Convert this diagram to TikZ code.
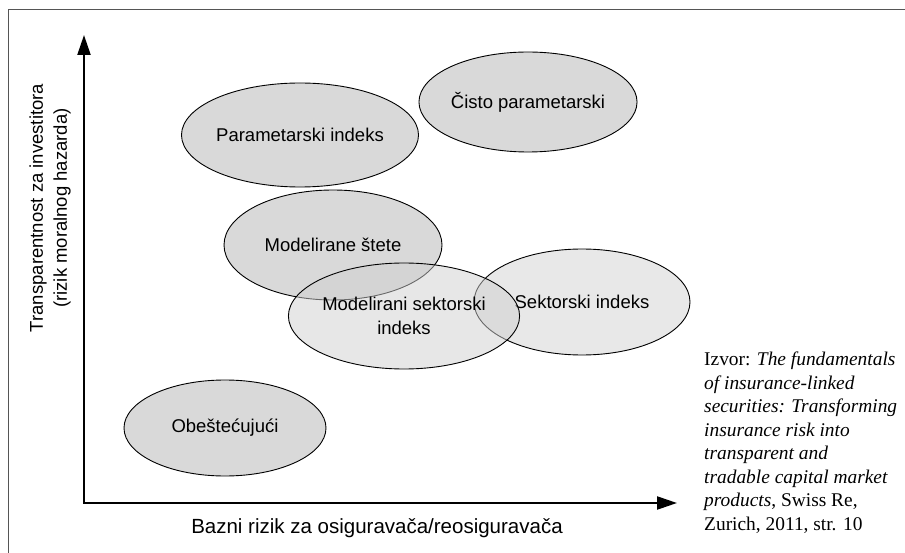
\documentclass[tikz,border=0pt]{standalone}
\usepackage{fontspec}
\setmainfont{Liberation Sans}
\newfontfamily\notefont{Liberation Serif}
\usetikzlibrary{shapes.geometric,arrows.meta}
\definecolor{darkfill}{HTML}{D9D9D9}
\definecolor{lightfill}{HTML}{E8E8E8}
\definecolor{glassfill}{HTML}{D0D0D0}
\definecolor{framegray}{HTML}{555555}
\begin{document}
\begin{tikzpicture}[x=1pt,y=-1pt,
  labelfont/.style={font=\fontsize{18.5}{24}\selectfont},
  blob/.style={ellipse, draw=black, line width=0.9pt, inner sep=0pt,
    labelfont, align=center, text=black},
  darkblob/.style={blob, fill=darkfill},
  lightblob/.style={blob, fill=lightfill},
  glassblob/.style={blob, fill=glassfill, fill opacity=0.5, text opacity=1},
  axisline/.style={line width=2.2pt, black,
    arrows={Triangle[length=20pt,width=13pt]-Triangle[length=20pt,width=13pt]}},
  framelines/.style={line width=1.4pt, framegray}]
\useasboundingbox (0,0) rectangle (905,553);

% outer frame (left and top edges)
\draw[framelines] (8.5,553) -- (8.5,9.5) -- (905,9.5);

% axes
\coordinate (origin) at (84,503);
\coordinate (ytip) at (84,35);
\coordinate (xtip) at (677,503);
\draw[axisline] (ytip) -- (origin) -- (xtip);

% axis titles
\node[labelfont, rotate=90, align=center] (ylab) at (50,208)
  {Transparentnost za investitora\\(rizik moralnog hazarda)};
\node[font=\fontsize{20.5}{24}\selectfont, anchor=base] (xlab) at (377,533)
  {Bazni rizik za osiguravača/reosiguravača};

% product types
\node[darkblob, minimum width=216pt, minimum height=104pt] (param) at (300,135) {Parametarski indeks};
\node[darkblob, minimum width=204pt, minimum height=100pt] (cisto) at (528,102) {Čisto parametarski};
\node[darkblob, minimum width=218pt, minimum height=110pt] (modstete) at (333,245) {Modelirane štete};
\node[lightblob, minimum width=216pt, minimum height=106pt] (sektor) at (582,302) {Sektorski indeks};
\node[glassblob, minimum width=216pt, minimum height=106pt] (modsektor) at (404,316) {Modelirani sektorski\\indeks};
\node[darkblob, minimum width=202pt, minimum height=96pt] (obest) at (225,428) {Obeštećujući};

% source note
\node[anchor=north west, inner sep=0pt, align=left,
  font=\notefont\fontsize{19.4}{23.5}\selectfont] (src) at (704,352)
  {Izvor: \textit{The fundamentals}\\
   \textit{of insurance-linked}\\
   \textit{securities: Transforming}\\
   \textit{insurance risk into}\\
   \textit{transparent and}\\
   \textit{tradable capital market}\\
   \textit{products}, Swiss Re,\\
   Zurich, 2011, str. 10};
\end{tikzpicture}
\end{document}
